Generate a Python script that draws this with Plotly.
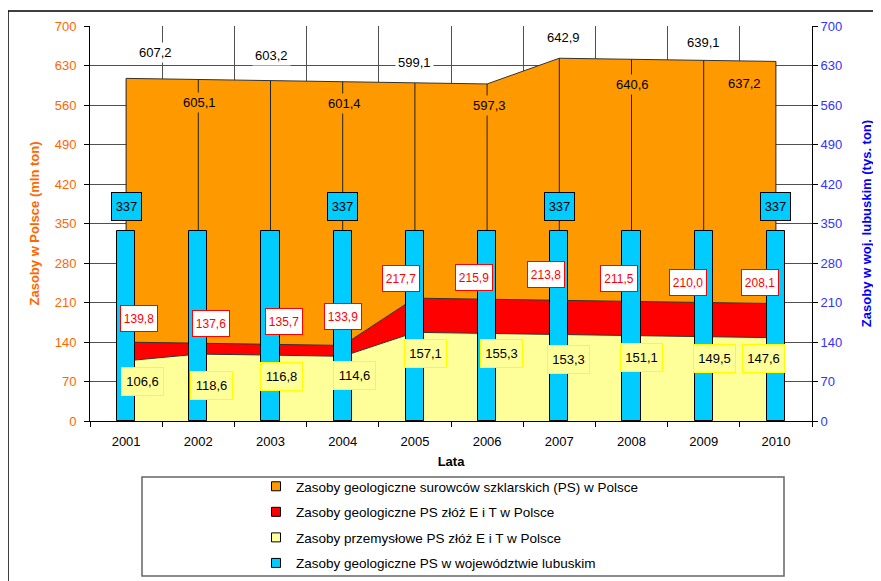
import plotly.graph_objects as go

# --- dane -------------------------------------------------------------------
LATA = ["2001", "2002", "2003", "2004", "2005", "2006", "2007", "2008", "2009", "2010"]
ZASOBY_PS_POLSKA = [607.2, 605.1, 603.2, 601.4, 599.1, 597.3, 642.9, 640.6, 639.1, 637.2]
ZASOBY_ET_POLSKA = [139.8, 137.6, 135.7, 133.9, 217.7, 215.9, 213.8, 211.5, 210.0, 208.1]
ZASOBY_PRZEM_ET = [106.6, 118.6, 116.8, 114.6, 157.1, 155.3, 153.3, 151.1, 149.5, 147.6]
ZASOBY_LUBUSKIE = [337, 337, 337, 337, 337, 337, 337, 337, 337, 337]
LATA_Z_ETYKIETA_LUBUSKIE = ["2001", "2004", "2007", "2010"]

NAZWY = [
    "Zasoby geologiczne surowców szklarskich (PS) w Polsce",
    "Zasoby geologiczne PS złóż E i T w Polsce",
    "Zasoby przemysłowe PS złóż E i T w Polsce",
    "Zasoby geologiczne PS w województwie lubuskim",
]

# --- styl ---------------------------------------------------------------------
KOLOR = {
    "pomaranczowy": "#FF9900",
    "czerwony":     "#FF0000",
    "zolty":        "#FFFF99",
    "zolty_ramka":  "#FFFF00",
    "niebieski":    "#00CCFF",
    "os_lewa":      "#FF6600",
    "os_prawa":     "#3333FF",
    "siatka":       "#505050",
    "kontur":       "#333333",
}
FONT = "Arial, Liberation Sans, sans-serif"

# strona ma margines 8 px, więc figura jest mniejsza i wszystko przesunięte
OFF = 8
W, H = 881 - OFF, 581 - OFF
# ramka obszaru wykresu (piksele ekranu)
PL, PR, PT, PB = 90, 812, 26, 421


def paper(x, y):
    return (x - PL) / (PR - PL), (PB - y) / (PB - PT)


def fmt(v):
    return f"{v:.1f}".replace(".", ",")


# przesunięcia etykiet w pikselach (ręcznie ustawione jak w Excelu)
PRZES_PS = [(29, 26), (1, -23), (1, 25), (2, -22), (0, 20),
            (2, -22), (4, 21), (1, -25), (0, 18), (-31, -22)]
PRZES_ET = [(13, 24), (13, 20), (13, 23), (0, 29), (-14, 20),
            (-13, 22), (-13, 26), (-13, 23), (-16, 20), (-16, 21)]
PRZES_PRZEM = [(16, -21), (13, -31), (11, -21), (12, -19), (11, -21),
               (14, -20), (9, -25), (10, -22), (11, -22), (-12, -21)]

fig = go.Figure()

# obszary (nakładające się, nie skumulowane)
for wart, kolor in [
    (ZASOBY_PS_POLSKA, KOLOR["pomaranczowy"]),
    (ZASOBY_ET_POLSKA, KOLOR["czerwony"]),
    (ZASOBY_PRZEM_ET,  KOLOR["zolty"]),
]:
    fig.add_trace(go.Scatter(
        x=LATA, y=wart, mode="lines", fill="tozeroy",
        fillcolor=kolor, line=dict(color=KOLOR["kontur"], width=1),
        showlegend=False, hoverinfo="skip",
    ))

# linie spadku
xs, ys = [], []
for rok, v in zip(LATA, ZASOBY_PS_POLSKA):
    xs += [rok, rok, None]
    ys += [v, 0, None]
fig.add_trace(go.Scatter(
    x=xs, y=ys, mode="lines", line=dict(color="#222222", width=1),
    showlegend=False, hoverinfo="skip",
))

# słupki – oś pomocnicza
fig.add_trace(go.Bar(
    x=LATA, y=ZASOBY_LUBUSKIE, yaxis="y2", width=0.25,
    marker=dict(color=KOLOR["niebieski"], line=dict(color="black", width=1)),
    showlegend=False, hoverinfo="skip",
))

# legenda – kwadratowe znaczniki
for i, (nazwa, kolor) in enumerate(zip(NAZWY, [KOLOR["pomaranczowy"], KOLOR["czerwony"],
                                               KOLOR["zolty"], KOLOR["niebieski"]])):
    fig.add_trace(go.Scatter(
        x=[None], y=[None], mode="markers", name=nazwa, legendgroup=str(i),
        marker=dict(symbol="square", size=9, color=kolor,
                    line=dict(color="black", width=1)),
    ))

# etykiety danych (x jako indeks kategorii)
ann = []
for i, v in enumerate(ZASOBY_PS_POLSKA):
    dx, dy = PRZES_PS[i]
    ann.append(dict(
        x=i, y=v, xref="x", yref="y", xshift=dx, yshift=dy, text=fmt(v),
        showarrow=False, font=dict(size=13, color="black", family=FONT),
        bgcolor="white" if dy > 0 else KOLOR["pomaranczowy"], borderpad=2,
    ))
for i, v in enumerate(ZASOBY_ET_POLSKA):
    dx, dy = PRZES_ET[i]
    ann.append(dict(
        x=i, y=v, xref="x", yref="y", xshift=dx, yshift=dy, text=fmt(v),
        showarrow=False, font=dict(size=12, color=KOLOR["czerwony"], family=FONT),
        bgcolor="white", bordercolor=KOLOR["czerwony"], borderwidth=1,
        width=34, height=23,
    ))
for i, v in enumerate(ZASOBY_PRZEM_ET):
    dx, dy = PRZES_PRZEM[i]
    ann.append(dict(
        x=i, y=v, xref="x", yref="y", xshift=dx, yshift=dy, text=fmt(v),
        showarrow=False, font=dict(size=13, color="black", family=FONT),
        bgcolor=KOLOR["zolty"], bordercolor=KOLOR["zolty_ramka"], borderwidth=1,
        width=39, height=25,
    ))
for i, (rok, v) in enumerate(zip(LATA, ZASOBY_LUBUSKIE)):
    if rok in LATA_Z_ETYKIETA_LUBUSKIE:
        ann.append(dict(
            x=i, y=v, xref="x", yref="y2", yshift=24, text=str(v),
            showarrow=False, font=dict(size=13, color="black", family=FONT),
            bgcolor=KOLOR["niebieski"], bordercolor="black", borderwidth=1,
            width=27, height=25,
        ))

# ramka legendy i ramka wykresu
lx0, ly0 = paper(142, 477)
lx1, ly1 = paper(784, 576)
bx0, by0 = paper(8, 11)
bx1, by1 = paper(900, 600)
shapes = [
    dict(type="rect", xref="paper", yref="paper", x0=lx0, y0=ly0, x1=lx1, y1=ly1,
         line=dict(color="#666666", width=1.5)),
    dict(type="line", xref="paper", yref="paper", x0=bx0, y0=by0, x1=bx1, y1=by0,
         line=dict(color="black", width=1.5)),
    dict(type="line", xref="paper", yref="paper", x0=bx0, y0=by0, x1=bx0, y1=by1,
         line=dict(color="black", width=1.5)),
]

leg_x, leg_y = paper(256, 471)

fig.update_layout(
    width=W, height=H,
    margin=dict(l=PL - OFF, r=881 - PR, t=PT - OFF, b=581 - PB, autoexpand=False),
    paper_bgcolor="white", plot_bgcolor="white",
    font=dict(family=FONT, size=13, color="black"),
    bargap=0,
    xaxis=dict(
        type="category", tickson="boundaries", ticks="outside", ticklen=5,
        tickcolor="black", showline=True, linecolor="black", linewidth=1,
        showgrid=True, gridcolor=KOLOR["siatka"], gridwidth=1,
        tickfont=dict(size=13, color="black"), ticklabelstandoff=8,
        title=dict(text="<b>Lata</b>", standoff=9, font=dict(size=13)),
        range=[-0.5, 9.5],
    ),
    yaxis=dict(
        range=[0, 700], dtick=70, ticks="outside", ticklen=5, tickcolor="black",
        showline=True, linecolor="black", linewidth=1,
        showgrid=True, gridcolor=KOLOR["siatka"], gridwidth=1, zeroline=False,
        tickfont=dict(size=13, color=KOLOR["os_lewa"]), ticklabelstandoff=5,
        title=dict(text="<b>Zasoby w Polsce (mln ton)</b>", standoff=12,
                   font=dict(size=13, color=KOLOR["os_lewa"])),
    ),
    yaxis2=dict(
        overlaying="y", side="right", range=[0, 700], dtick=70,
        ticks="outside", ticklen=5, tickcolor="black",
        showline=True, linecolor="black", linewidth=1, showgrid=False, zeroline=False,
        tickfont=dict(size=13, color=KOLOR["os_prawa"]),
        title=dict(text="<b>Zasoby w woj. lubuskim (tys. ton)</b>", standoff=20,
                   font=dict(size=13, color="#0000FF")),
    ),
    legend=dict(
        x=leg_x, y=leg_y, xanchor="left", yanchor="top",
        bgcolor="rgba(0,0,0,0)", borderwidth=0, tracegroupgap=5,
        font=dict(size=13.5, color="black"),
    ),
    annotations=ann,
    shapes=shapes,
    hovermode=False,
)

fig.write_html("out.html")
